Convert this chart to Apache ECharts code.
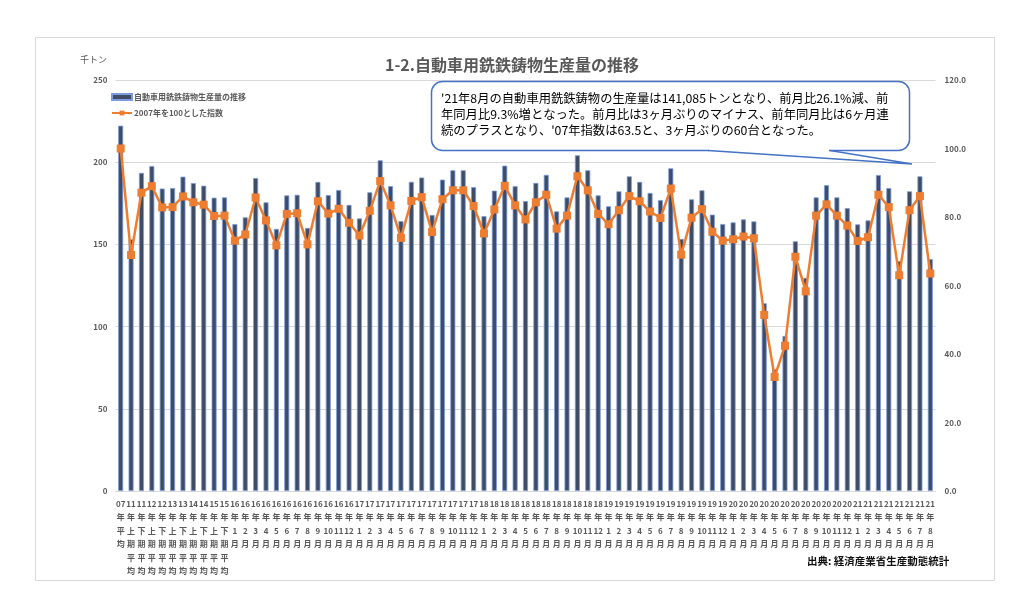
<!DOCTYPE html>
<html>
<head>
<meta charset="utf-8">
<script src="https://cdn.jsdelivr.net/npm/echarts@6/dist/echarts.min.js"></script>
<style>
html,body{margin:0;padding:0;background:#fff;}
#c{width:1024px;height:609px;}
</style>
</head>
<body>
<div id="c"></div>
<script>
var categories = [
 "07年平均","11年上期平均","11年下期平均","12年上期平均","12年下期平均","13年上期平均","13年下期平均","14年上期平均","14年下期平均","15年上期平均","15年下期平均",
 "16年1月","16年2月","16年3月","16年4月","16年5月","16年6月","16年7月","16年8月","16年9月","16年10月","16年11月","16年12月",
 "17年1月","17年2月","17年3月","17年4月","17年5月","17年6月","17年7月","17年8月","17年9月","17年10月","17年11月","17年12月",
 "18年1月","18年2月","18年3月","18年4月","18年5月","18年6月","18年7月","18年8月","18年9月","18年10月","18年11月","18年12月",
 "19年1月","19年2月","19年3月","19年4月","19年5月","19年6月","19年7月","19年8月","19年9月","19年10月","19年11月","19年12月",
 "20年1月","20年2月","20年3月","20年4月","20年5月","20年6月","20年7月","20年8月","20年9月","20年10月","20年11月","20年12月",
 "21年1月","21年2月","21年3月","21年4月","21年5月","21年6月","21年7月","21年8月"
];
var production = [
 222.2,153.0,193.5,197.7,184.0,184.3,191.2,187.3,185.7,178.4,178.6,
 162.4,166.5,190.4,175.6,159.4,179.8,180.2,160.0,188.0,180.0,183.1,174.0,
 165.8,181.7,201.2,185.4,164.2,188.1,190.7,167.9,189.4,195.1,195.1,184.8,
 167.2,182.7,197.9,185.4,176.3,187.4,192.3,170.1,178.6,204.2,195.1,179.8,
 173.2,182.3,191.4,188.0,181.3,177.0,196.3,153.3,177.4,182.9,168.1,162.4,
 163.4,165.2,164.0,114.2,74.0,94.3,151.9,129.6,178.6,186.0,178.6,172.1,
 162.2,164.6,192.2,184.3,139.9,182.3,191.4,141.1
];
var indexValues = [
 100.0,68.9,87.1,89.0,82.8,82.9,86.0,84.3,83.6,80.3,80.4,
 73.1,74.9,85.7,79.0,71.7,80.9,81.1,72.0,84.6,81.0,82.4,78.3,
 74.6,81.8,90.5,83.4,73.9,84.7,85.8,75.6,85.2,87.8,87.8,83.2,
 75.2,82.2,89.1,83.4,79.3,84.3,86.5,76.6,80.4,91.9,87.8,80.9,
 77.9,82.0,86.1,84.6,81.6,79.7,88.3,69.0,79.8,82.3,75.7,73.1,
 73.5,74.3,73.8,51.4,33.3,42.4,68.4,58.3,80.4,83.7,80.4,77.5,
 73.0,74.1,86.5,82.9,63.0,82.0,86.1,63.5
];
var seriesNames = ["自動車用銑鉄鋳物生産量の推移","2007年を100とした指数"];
var titleText = "1-2.自動車用銑鉄鋳物生産量の推移";
var unitText = "千トン";
var sourceText = "出典: 経済産業省生産動態統計";
var noteLines = [
 "'21年8月の自動車用銑鉄鋳物の生産量は141,085トンとなり、前月比26.1%減、前",
 "年同月比9.3%増となった。前月比は3ヶ月ぶりのマイナス、前年同月比は6ヶ月連",
 "続のプラスとなり、'07年指数は63.5と、3ヶ月ぶりの60台となった。"
];

var FF = '"Noto Sans CJK JP","Noto Sans",sans-serif';
var chart = echarts.init(document.getElementById('c'), null, {renderer:'canvas'});
var option = {
  backgroundColor:'#ffffff',
  animation:false,
  textStyle:{fontFamily:FF},
  title:{
    text:titleText, left:'center', top:52,
    textStyle:{fontSize:16, fontWeight:'bold', color:'#595959', fontFamily:FF}
  },
  legend:{
    orient:'vertical', left:106, top:88, itemGap:8, itemWidth:20, itemHeight:6,
    data:[{name:seriesNames[0], icon:'rect'},{name:seriesNames[1]}],
    textStyle:{fontSize:8, fontWeight:'bold', color:'#595959', fontFamily:FF, padding:[0,0,0,-3]}
  },
  grid:{left:115.5, right:88.5, top:80, bottom:118, containLabel:false},
  xAxis:{
    type:'category', data:categories,
    axisTick:{show:false},
    axisLine:{lineStyle:{color:'#D9D9D9'}},
    axisLabel:{
      interval:0, fontSize:8, fontWeight:'bold', color:'#595959', lineHeight:13.5, margin:6,
      fontFamily:FF,
      formatter:function(v){ return v.match(/\d+|./g).join('\n'); }
    }
  },
  yAxis:[
    {type:'value', min:0, max:250, interval:50,
     axisLine:{show:false}, axisTick:{show:false},
     splitLine:{lineStyle:{color:'#D9D9D9', width:1}},
     axisLabel:{fontSize:8, fontWeight:'bold', color:'#595959', margin:8, fontFamily:FF}},
    {type:'value', min:0, max:120, interval:20,
     axisLine:{show:false}, axisTick:{show:false}, splitLine:{show:false},
     axisLabel:{fontSize:8, fontWeight:'bold', color:'#595959', margin:9, fontFamily:FF,
       formatter:function(v){return v.toFixed(1);}}}
  ],
  series:[
    {name:seriesNames[0], type:'bar', data:production, barWidth:5,
     itemStyle:{color:'#3E4C66', borderColor:'#7C9CDA', borderWidth:0.8}},
    {name:seriesNames[1], type:'line', yAxisIndex:1, data:indexValues,
     symbol:'rect', symbolSize:8, lineStyle:{color:'#ED7D31', width:2.5},
     itemStyle:{color:'#ED7D31'}, z:5}
  ],
  graphic:[
    {type:'rect', silent:true, z:-1, shape:{x:35.5, y:37.5, width:959, height:543},
     style:{fill:'none', stroke:'#D9D9D9', lineWidth:1}},
    {type:'text', left:80, top:55, style:{text:unitText, fontSize:9, fill:'#595959', fontFamily:FF}},
    {type:'text', left:807, top:556, style:{text:sourceText, fontSize:10.5, fontWeight:'bold', fill:'#111111', fontFamily:FF}},
    {type:'rect', z:100, shape:{x:431.5, y:81.5, width:478, height:69, r:11},
     style:{fill:'#ffffff', stroke:'#4472C4', lineWidth:1.5}},
    {type:'line', z:101, shape:{x1:709, y1:150.5, x2:829, y2:150.5},
     style:{stroke:'#ffffff', lineWidth:3}},
    {type:'polyline', z:101, shape:{points:[[708,150.5],[912,164],[830,150.5]]},
     style:{fill:'none', stroke:'#4472C4', lineWidth:1.5}},
    {type:'text', z:102, left:441, top:90,
     style:{text:noteLines.join('\n'), fontSize:12.3, lineHeight:16.3, fill:'#000000', fontFamily:FF}}
  ]
};
chart.setOption(option);
</script>
</body>
</html>
